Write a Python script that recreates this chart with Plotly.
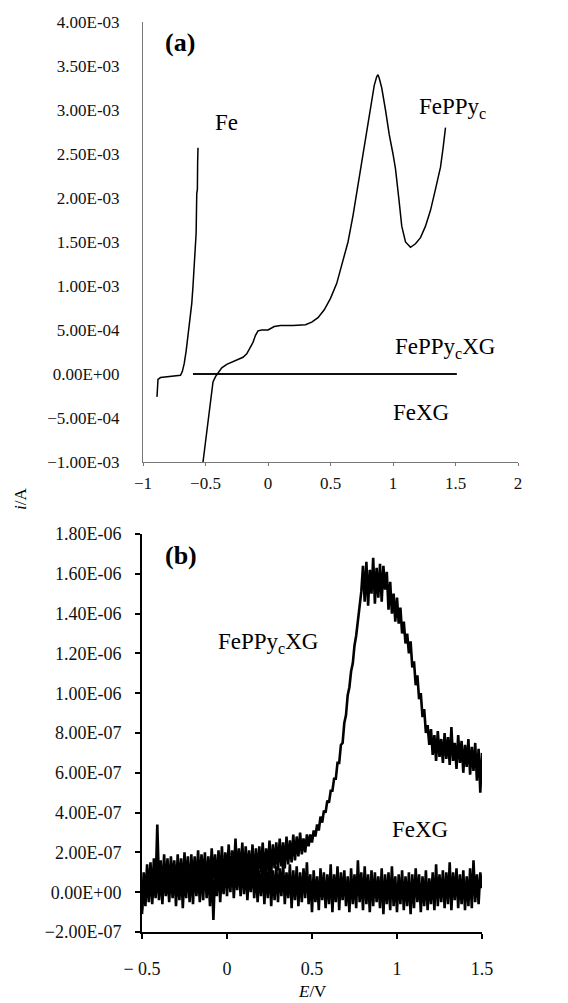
import numpy as np
import plotly.graph_objects as go

# ---------------- Panel (a) data ----------------
fe_E = [-0.888, -0.886, -0.88, -0.86, -0.83, -0.80, -0.76, -0.72, -0.70, -0.685, -0.67, -0.655,
        -0.64, -0.625, -0.61, -0.60, -0.595, -0.59, -0.585, -0.58, -0.575, -0.57, -0.565, -0.563, -0.56]
fe_i = [-2.6, -1.5, -0.6, -0.4, -0.35, -0.3, -0.3, -0.25, -0.15, 0.3, 1.2, 2.6,
        4.2, 6.0, 8.0, 10.0, 11.5, 13.0, 14.5, 15.5, 16.0, 20.5, 21.0, 24.0, 25.7]  # 1e-4 A

feppy_E = [-0.52, -0.50, -0.48, -0.46, -0.44, -0.42, -0.40, -0.37, -0.33, -0.30, -0.25, -0.20,
           -0.17, -0.14, -0.12, -0.10, -0.08, -0.05, 0.0, 0.05, 0.1, 0.2, 0.3, 0.35, 0.4, 0.45,
           0.5, 0.55, 0.6, 0.64, 0.68, 0.72, 0.76, 0.8, 0.82, 0.85, 0.87, 0.88, 0.89, 0.91, 0.94,
           0.97, 1.0, 1.02, 1.05, 1.07, 1.1, 1.14, 1.18, 1.22, 1.26, 1.3, 1.34, 1.38, 1.4, 1.42]
feppy_i = [-10, -7.8, -5.0, -2.8, -0.9, -0.3, 0.1, 0.7, 1.1, 1.3, 1.6, 1.9,
           2.3, 3.0, 3.6, 4.4, 4.9, 5.0, 5.0, 5.4, 5.5, 5.5, 5.6, 5.9, 6.4, 7.3,
           8.6, 10.3, 12.8, 15.0, 18.0, 21.5, 24.8, 28.3, 30.3, 32.8, 33.8, 34.0, 33.6, 32.5, 30.0,
           27.2, 25.0, 23.3, 19.5, 16.8, 15.0, 14.4, 14.8, 15.5, 16.8, 18.6, 21.0, 23.5, 25.6, 28.0]  # 1e-4 A

xg_top_E = [-0.60, 1.51]
feppyxg_top_i = [0.0, 0.0]
fexg_top_i = [0.0, 0.0]

# ---------------- Panel (b) data (E step 0.01 V from -0.5 to 1.5) ----------------
b_E_start, b_E_step = -0.5, 0.01
feppyxg_b = [  # 1e-7 A
    -0.9, 1.0, -0.3, 1.4, 0.0, 1.5, -0.2, 1.7, 0.3, 3.4,
    0.4, 1.6, -0.1, 1.9, 0.2, 1.7, 0.0, 1.8, 0.5, 1.6,
    -0.2, 1.9, 0.3, 1.7, 0.1, 2.0, 0.4, 1.8, -0.3, 1.9,
    0.5, 1.8, 0.2, 2.1, 0.3, 1.9, 0.6, 2.0, 0.1, 1.8,
    0.4, 2.2, 0.7, 1.9, 0.3, 2.1, 0.6, 2.3, 0.5, 2.0,
    0.8, 2.4, 0.6, 2.1, 0.9, 2.7, 0.7, 2.2, 0.8, 2.5,
    0.6, 2.3, 0.9, 2.1, 0.7, 2.4, 0.5, 2.2, 0.8, 2.3,
    1.0, 2.5, 0.7, 2.2, 1.1, 2.6, 0.9, 2.4, 1.2, 2.5,
    1.1, 2.7, 1.3, 2.5, 1.2, 2.8, 1.4, 2.6, 1.5, 2.9,
    1.6, 2.8, 1.8, 3.0, 1.9, 2.7, 2.0, 2.9, 2.3, 2.9,
    2.5, 3.1, 2.8, 3.4, 3.1, 3.8, 3.5, 4.1, 4.0, 4.6,
    4.5, 5.1, 5.1, 5.7, 5.7, 6.5, 6.5, 7.4, 7.5, 8.5,
    8.9, 9.9, 10.3, 11.1, 11.5, 12.4, 12.9, 13.7, 14.2, 15.1,
    16.4, 14.6, 16.6, 14.4, 16.2, 15.0, 16.8, 14.5, 16.3, 14.8,
    16.5, 14.6, 16.4, 15.2, 16.1, 14.2, 15.6, 14.0, 15.0, 13.6,
    14.8, 13.5, 14.3, 13.0, 13.6, 12.5, 13.0, 12.0, 12.6, 11.3,
    11.6, 10.4, 10.9, 9.7, 10.0, 8.8, 9.2, 8.0, 8.4, 7.4,
    8.2, 6.9, 7.9, 6.6, 8.1, 6.8, 7.7, 6.5, 8.0, 6.7,
    7.8, 6.4, 8.3, 6.6, 7.5, 6.2, 7.9, 6.5, 7.6, 6.0,
    7.4, 6.3, 7.7, 5.9, 7.3, 6.1, 7.5, 5.6, 7.2, 5.0, 7.0,
]
fexg_b = [  # 1e-7 A
    -1.1, 0.6, -0.7, 0.9, -0.5, 1.1, -0.6, 0.8, -0.3, 1.2,
    -0.4, 1.0, -0.6, 1.3, -0.2, 0.9, -0.5, 1.2, -0.3, 1.4,
    -0.7, 1.1, -0.4, 1.3, -0.8, 1.0, -0.3, 1.5, -0.5, 1.2,
    -0.6, 1.4, -0.2, 1.1, -0.5, 1.3, -0.4, 1.6, -0.3, 1.2,
    -0.7, 1.3, -1.4, 1.1, -0.2, 1.5, -0.5, 1.2, -0.1, 1.6,
    -0.2, 1.4, 0.0, 1.7, -0.3, 1.3, 0.1, 1.5, -0.2, 1.6,
    -0.1, 1.4, -0.4, 1.2, 0.0, 1.5, -0.3, 1.3, -0.5, 1.1,
    -0.2, 1.4, -0.6, 1.2, -0.3, 1.6, -0.7, 1.1, -0.4, 1.3,
    -0.5, 1.2, -0.2, 1.5, -0.6, 1.0, -0.3, 1.4, -0.8, 1.1,
    -0.4, 1.3, -0.7, 1.0, -0.5, 1.2, -0.3, 1.5, -0.6, 0.9,
    -1.0, 1.1, -0.5, 0.8, -0.9, 1.2, -0.4, 1.0, -0.8, 0.9,
    -0.6, 1.4, -1.0, 0.9, -0.5, 1.3, -0.9, 1.0, -0.4, 1.1,
    -0.7, 0.8, -1.0, 1.2, -0.6, 0.9, -0.8, 1.6, -0.5, 1.0,
    -0.9, 1.3, -0.6, 0.9, -1.0, 1.1, -0.7, 1.0, -0.5, 0.8,
    -0.8, 1.2, -1.1, 0.9, -0.6, 1.0, -0.9, 1.3, -0.7, 0.8,
    -1.0, 0.9, -0.6, 1.1, -0.9, 0.8, -0.7, 1.0, -1.1, 0.9,
    -0.8, 1.2, -0.5, 0.9, -1.0, 0.8, -0.7, 1.1, -0.9, 0.7,
    -0.6, 1.0, -0.9, 1.4, -0.7, 0.9, -0.5, 1.1, -0.8, 1.0,
    -0.6, 1.5, -0.9, 1.0, -0.4, 1.2, -0.8, 0.9, -0.6, 1.1,
    -0.9, 0.8, -0.7, 1.2, -0.8, 1.6, -0.5, 0.9, -0.6, 1.0, 0.2,
]

# ---------------- Tick labels ----------------
a_xtickvals = [-1, -0.5, 0, 0.5, 1, 1.5, 2]
a_xticktext = ["\u22121", "\u22120.5", "0", "0.5", "1", "1.5", "2"]
a_ytickvals = [-1e-3, -5e-4, 0, 5e-4, 1e-3, 1.5e-3, 2e-3, 2.5e-3, 3e-3, 3.5e-3, 4e-3]
a_yticktext = ["\u22121.00E-03", "\u22125.00E-04", "0.00E+00", "5.00E-04", "1.00E-03", "1.50E-03",
               "2.00E-03", "2.50E-03", "3.00E-03", "3.50E-03", "4.00E-03"]
b_xtickvals = [-0.5, 0, 0.5, 1, 1.5]
b_xticktext = ["\u2212 0.5", "0", "0.5", "1", "1.5"]
b_ytickvals = [-2e-7, 0, 2e-7, 4e-7, 6e-7, 8e-7, 1e-6, 1.2e-6, 1.4e-6, 1.6e-6, 1.8e-6]
b_yticktext = ["\u22122.00E-07", "0.00E+00", "2.00E-07", "4.00E-07", "6.00E-07", "8.00E-07",
               "1.00E-06", "1.20E-06", "1.40E-06", "1.60E-06", "1.80E-06"]

# The page body has an 8px default margin, so the figure is drawn 8px in from the corner.
OFF = 8
W, H = 568 - OFF, 1003 - OFF
FONT = "Liberation Serif"

def px_x(p):
    return (p - OFF) / W

def px_y(p):
    return 1 - (p - OFF) / H

b_E = np.round(b_E_start + b_E_step * np.arange(len(fexg_b)), 4)

fig = go.Figure()
line_a = dict(color="black", width=1.5)
fig.add_trace(go.Scatter(x=fe_E, y=np.array(fe_i) * 1e-4, mode="lines", line=line_a,
                         xaxis="x", yaxis="y", name="Fe"))
fig.add_trace(go.Scatter(x=feppy_E, y=np.array(feppy_i) * 1e-4, mode="lines", line=line_a,
                         xaxis="x", yaxis="y", name="FePPyc"))
fig.add_trace(go.Scatter(x=xg_top_E, y=feppyxg_top_i, mode="lines", line=line_a,
                         xaxis="x", yaxis="y", name="FePPycXG"))
fig.add_trace(go.Scatter(x=xg_top_E, y=fexg_top_i, mode="lines", line=line_a,
                         xaxis="x", yaxis="y", name="FeXG"))

line_b = dict(color="black", width=2.6)
fig.add_trace(go.Scatter(x=b_E, y=np.array(fexg_b) * 1e-7, mode="lines", line=line_b,
                         xaxis="x2", yaxis="y2", name="FeXG b"))
fig.add_trace(go.Scatter(x=b_E, y=np.array(feppyxg_b) * 1e-7, mode="lines", line=line_b,
                         xaxis="x2", yaxis="y2", name="FePPycXG b"))

tickfont_a = dict(family=FONT, size=17, color="#111")
tickfont_b = dict(family=FONT, size=18, color="#111")

fig.update_layout(
    width=W, height=H, showlegend=False,
    paper_bgcolor="white", plot_bgcolor="white",
    margin=dict(l=0, r=0, t=0, b=0, pad=0, autoexpand=False),
    xaxis=dict(domain=[px_x(143), px_x(518)], range=[-1, 2], anchor="y", automargin=False,
               tickvals=a_xtickvals, ticktext=a_xticktext, tickfont=tickfont_a,
               showline=True, linecolor="#777", linewidth=1, ticks="outside", ticklen=3,
               tickcolor="#777", showgrid=False, zeroline=False, ticklabelstandoff=3),
    yaxis=dict(domain=[px_y(462), px_y(22)], range=[-1e-3, 4e-3], anchor="x", automargin=False,
               tickvals=a_ytickvals, ticktext=a_yticktext, tickfont=tickfont_a,
               showline=True, linecolor="#777", linewidth=1, ticks="",
               showgrid=False, zeroline=False, ticklabelstandoff=19),
    xaxis2=dict(domain=[px_x(142), px_x(482)], range=[-0.5, 1.5], anchor="y2", automargin=False,
                tickvals=b_xtickvals, ticktext=b_xticktext, tickfont=tickfont_b,
                showline=True, linecolor="black", linewidth=2, ticks="outside", ticklen=5,
                tickwidth=2, tickcolor="black", showgrid=False, zeroline=False,
                ticklabelstandoff=14),
    yaxis2=dict(domain=[px_y(932), px_y(534)], range=[-2e-7, 1.8e-6], anchor="x2", automargin=False,
                tickvals=b_ytickvals, ticktext=b_yticktext, tickfont=tickfont_b,
                showline=True, linecolor="black", linewidth=2, ticks="outside", ticklen=5,
                tickwidth=2, tickcolor="black", showgrid=False, zeroline=False,
                ticklabelstandoff=10),
)

def ann(text, x, y, size=24, bold=False, angle=0):
    t = f"<b>{text}</b>" if bold else text
    fig.add_annotation(text=t, x=px_x(x), y=px_y(y), xref="paper", yref="paper",
                       showarrow=False, xanchor="center", yanchor="middle", textangle=angle,
                       font=dict(family=FONT, size=size, color="black"))

ann("(a)", 180, 42, size=26, bold=True)
ann("Fe", 226, 123, size=23)
ann("FePPy<sub>c</sub>", 452, 108, size=23)
ann("FePPy<sub>c</sub>XG", 445, 348, size=23)
ann("FeXG", 421, 412, size=23)
ann("(b)", 181, 555, size=26, bold=True)
ann("FePPy<sub>c</sub>XG", 268, 643, size=23)
ann("FeXG", 420, 829, size=23)
ann("<i>i</i>/A", 21, 499, size=17, angle=-90)
ann("<i>E</i>/V", 312, 991, size=17)

fig.write_html("out.html")
